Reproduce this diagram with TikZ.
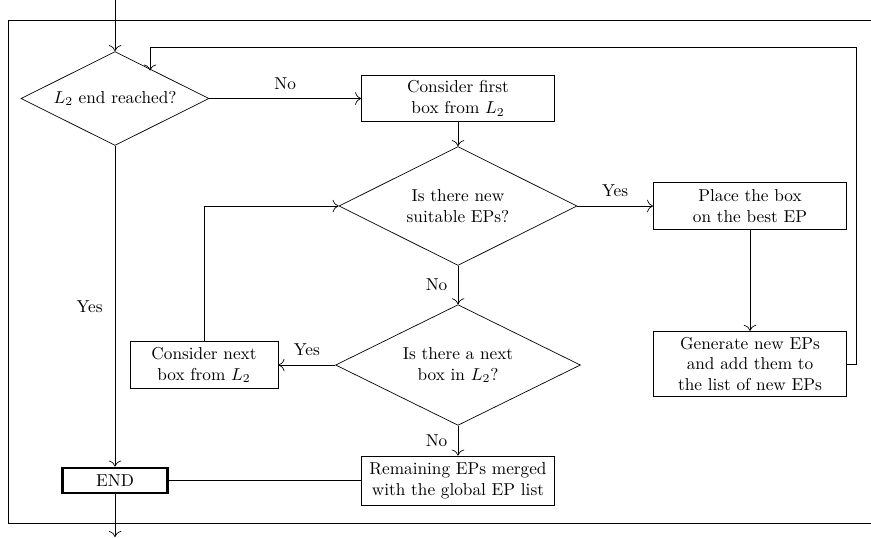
\documentclass[tikz,border=0pt]{standalone}
\usetikzlibrary{shapes.geometric,arrows.meta}
\begin{document}
\begin{tikzpicture}[x=0.58pt, y=-0.58pt,
  decision/.style={draw, diamond, aspect=2, inner sep=0pt, align=center},
  procbox/.style={draw, rectangle, align=center, inner sep=2pt},
  endbox/.style={draw, rectangle, ultra thick, align=center, inner sep=1pt,
                 minimum width=61pt, minimum height=14.5pt},
  flow/.style={-{To[scale=1.4]}},
  lbl/.style={inner sep=1pt},
  lblabove/.style={lbl, above=4pt},
  lblleft/.style={lbl, left=5pt}]
\useasboundingbox (0,0) rectangle (871,537);
% frame around the loop
\draw (8,20) rectangle (880,523);

% nodes
\node[decision, minimum width=109pt, minimum height=54.5pt] (d1) at (115,98.5) {$L_2$ end reached?};
\node[procbox, minimum width=112pt, minimum height=27pt] (b1) at (458,98.5) {Consider first\\box from $L_2$};
\node[decision, minimum width=138pt, minimum height=69pt] (d2) at (458,206) {Is there new\\suitable EPs?};
\node[procbox, minimum width=112pt, minimum height=27pt] (b2) at (750,206) {Place the box\\on the best EP};
\node[procbox, minimum width=112pt, minimum height=38pt] (b3) at (750,364) {Generate new EPs\\and add them to\\the list of new EPs};
\node[decision, minimum width=142pt, minimum height=70pt] (d3) at (458,365) {Is there a next\\box in $L_2$?};
\node[procbox, minimum width=86pt, minimum height=27pt] (b4) at (204,365) {Consider next\\box from $L_2$};
\node[procbox, minimum width=112pt, minimum height=28.5pt] (b5) at (458,480.5) {Remaining EPs merged\\with the global EP list};
\node[endbox] (end) at (115,480.5) {END};

\coordinate (in) at (115,0);
\coordinate (out) at (115,537);
\coordinate (fbr) at (856,364);
\coordinate (fbtr) at (856,47);
\coordinate (fbtl) at (150,47);
\coordinate (fbend) at (150,70.5);
\coordinate (b4up) at (204,206);

% connectors
\draw[flow] (in) -- (d1.north);
\draw[flow] (d1.east) -- node[lblabove] {No} (b1.west);
\draw[flow] (d1.south) -- node[lbl, pos=0.5, left=6pt] {Yes} (end.north);
\draw[flow] (b1.south) -- (d2.north);
\draw[flow] (d2.east) -- node[lblabove] {Yes} (b2.west);
\draw[flow] (b2.south) -- (b3.north);
\draw[flow] (b3.east) -- (fbr) -- (fbtr) -- (fbtl) -- (fbend);
\draw[flow] (d2.south) -- node[lblleft] {No} (d3.north);
\draw[flow] (d3.west) -- node[lblabove] {Yes} (b4.east);
\draw[flow] (b4.north) -- (b4up) -- (d2.west);
\draw[flow] (d3.south) -- node[lblleft] {No} (b5.north);
\draw (b5.west) -- (end.east);
\draw[flow] (end.south) -- (out);
\end{tikzpicture}
\end{document}
